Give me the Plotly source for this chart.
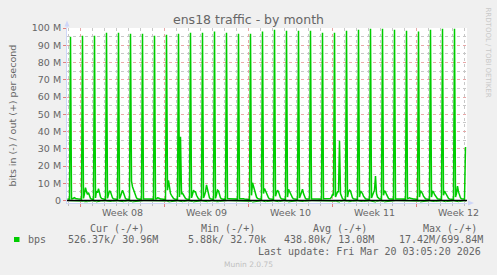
import datetime as dt
import plotly.graph_objects as go

# ---------------- data (Mbit/s, 2-hour samples) ----------------
start_time = dt.datetime(2026, 2, 14, 22, 0)
step_hours = 2

# out (+) traffic
out_week07 = [0.8,
              0.8, 0.7, 94.9, 0.9, 1.0, 1.3, 1.6, 1.2, 1.0, 0.9, 0.8, 0.8]
out_week08 = [0.8, 0.7, 95.5, 1.2, 4.0, 7.4, 5.0, 3.5, 4.5, 2.0, 1.2, 0.9,
              0.7, 0.6, 95.5, 1.5, 5.5, 4.5, 6.8, 4.0, 2.0, 1.2, 0.9, 0.8,
              0.7, 0.6, 97.3, 1.2, 3.0, 5.7, 5.0, 3.0, 1.5, 1.0, 0.8, 0.7,
              0.7, 0.6, 97.3, 1.0, 2.5, 4.0, 5.9, 4.5, 2.0, 1.2, 0.8, 0.7,
              0.7, 0.6, 96.7, 11.3, 8.0, 6.5, 4.0, 2.5, 1.5, 1.0, 0.8, 0.7,
              0.9, 0.8, 96.7, 0.9, 0.9, 1.0, 1.0, 0.9, 0.9, 0.9, 0.8, 0.8,
              0.8, 0.8, 95.5, 0.9, 1.0, 1.5, 1.4, 1.0, 0.9, 0.9, 0.9, 0.9]
out_week09 = [0.7, 0.6, 96.1, 6.0, 11.7, 7.0, 4.0, 3.0, 2.0, 1.2, 0.9, 0.8,
              0.8, 0.6, 96.7, 2.0, 37.0, 4.0, 4.2, 3.0, 2.0, 1.2, 0.9, 0.8,
              0.8, 0.6, 97.3, 1.5, 3.5, 6.0, 5.0, 5.0, 3.0, 1.5, 1.0, 0.8,
              0.8, 0.6, 97.3, 1.5, 3.0, 5.0, 9.0, 6.0, 3.0, 1.5, 1.0, 0.8,
              0.8, 0.6, 97.9, 1.2, 3.5, 6.0, 5.5, 3.0, 1.5, 1.0, 0.8, 0.7,
              0.9, 0.8, 97.3, 1.0, 1.0, 1.0, 1.0, 1.0, 0.9, 0.9, 0.9, 0.9,
              0.9, 0.8, 96.7, 1.0, 1.0, 1.1, 1.1, 1.0, 0.9, 0.9, 0.9, 0.9]
out_week10 = [0.8, 0.6, 96.7, 3.0, 10.3, 8.0, 5.0, 3.5, 2.0, 1.2, 0.9, 0.8,
              0.8, 0.6, 97.9, 4.0, 7.0, 5.5, 4.0, 2.5, 1.5, 1.0, 0.8, 0.7,
              0.8, 0.6, 99.0, 2.5, 4.5, 6.0, 5.0, 3.0, 1.5, 1.0, 0.8, 0.7,
              0.8, 0.6, 98.4, 2.0, 6.5, 5.0, 3.5, 2.5, 1.5, 1.0, 0.8, 0.7,
              0.8, 0.6, 98.4, 1.5, 3.0, 5.0, 6.5, 4.0, 2.0, 1.2, 0.8, 0.7,
              0.9, 0.8, 98.4, 0.9, 0.9, 1.0, 1.0, 0.9, 0.9, 0.9, 0.9, 0.9,
              0.9, 0.8, 97.3, 0.9, 1.0, 1.0, 1.0, 0.9, 0.9, 1.0, 1.2, 2.0]
out_week11 = [3.5, 3.0, 97.3, 2.0, 4.0, 5.0, 5.0, 34.7, 4.0, 2.0, 1.0, 0.8,
              0.8, 0.6, 98.4, 2.0, 5.0, 6.0, 5.5, 3.0, 1.5, 1.0, 0.8, 0.7,
              0.8, 0.6, 99.0, 2.0, 5.5, 5.0, 4.0, 2.5, 1.5, 1.0, 0.8, 0.7,
              0.8, 0.6, 99.6, 1.5, 3.0, 4.5, 6.0, 14.2, 4.0, 2.0, 1.0, 0.8,
              0.8, 0.6, 99.6, 3.0, 5.7, 5.0, 3.5, 2.0, 1.2, 0.9, 0.8, 0.7,
              0.9, 0.8, 99.0, 0.9, 0.9, 1.0, 1.0, 0.9, 0.9, 0.9, 0.9, 0.9,
              0.9, 0.8, 98.4, 1.0, 1.2, 1.5, 1.3, 1.0, 0.9, 0.9, 0.9, 0.9]
out_week12 = [0.8, 0.6, 97.9, 2.0, 5.7, 5.0, 4.0, 2.5, 1.5, 1.0, 0.8, 0.7,
              0.8, 0.6, 99.0, 2.0, 5.5, 5.0, 3.5, 2.5, 1.5, 1.0, 0.8, 0.7,
              0.8, 0.6, 99.6, 3.0, 5.5, 4.5, 3.5, 2.0, 1.2, 0.9, 0.8, 0.7,
              0.8, 0.6, 99.6, 2.0, 4.0, 8.4, 5.0, 3.0, 1.5, 1.0, 0.8, 0.7,
              0.8, 30.96]

# in (-) traffic
in_week07 = [-0.1,
             -0.1, -0.1, -0.2, -0.2, -0.2, -0.3, -0.3, -0.2, -0.2, -0.1, -0.1, -0.1]
in_week08 = [-0.2, -0.2, -0.3, -0.4, -0.7, -0.8, -0.8, -0.7, -0.5, -0.3, -0.2, -0.2,
             -0.2, -0.2, -0.3, -0.5, -0.8, -0.8, -0.7, -0.6, -0.4, -0.3, -0.2, -0.2,
             -0.2, -0.2, -0.3, -0.4, -0.7, -0.7, -0.8, -0.6, -0.4, -0.3, -0.2, -0.2,
             -0.2, -0.2, -0.3, -0.4, -0.6, -0.8, -0.8, -0.7, -0.5, -0.3, -0.2, -0.2,
             -0.2, -0.2, -0.3, -0.6, -0.8, -0.7, -0.6, -0.5, -0.4, -0.3, -0.2, -0.2,
             -0.1, -0.1, -0.2, -0.1, -0.1, -0.1, -0.1, -0.1, -0.1, -0.1, -0.1, -0.1,
             -0.1, -0.1, -0.2, -0.1, -0.1, -0.2, -0.2, -0.1, -0.1, -0.1, -0.1, -0.1]
in_week09 = [-0.2, -0.2, -0.3, -0.6, -0.9, -0.8, -0.7, -0.6, -0.4, -0.3, -0.2, -0.2,
             -0.2, -0.2, -0.3, -0.4, -0.8, -0.7, -0.7, -0.6, -0.4, -0.3, -0.2, -0.2,
             -0.2, -0.2, -0.3, -0.4, -0.6, -0.8, -0.7, -0.7, -0.5, -0.3, -0.2, -0.2,
             -0.2, -0.2, -0.3, -0.4, -0.6, -0.7, -0.9, -0.7, -0.5, -0.3, -0.2, -0.2,
             -0.2, -0.2, -0.3, -0.4, -0.7, -0.8, -0.7, -0.5, -0.4, -0.3, -0.2, -0.2,
             -0.1, -0.1, -0.2, -0.1, -0.1, -0.1, -0.1, -0.1, -0.1, -0.1, -0.1, -0.1,
             -0.1, -0.1, -0.2, -0.1, -0.1, -0.1, -0.1, -0.1, -0.1, -0.1, -0.1, -0.1]
in_week10 = [-0.2, -0.2, -0.3, -0.5, -0.9, -0.8, -0.7, -0.6, -0.4, -0.3, -0.2, -0.2,
             -0.2, -0.2, -0.3, -0.6, -0.8, -0.7, -0.6, -0.5, -0.4, -0.3, -0.2, -0.2,
             -0.2, -0.2, -0.3, -0.5, -0.7, -0.8, -0.7, -0.6, -0.4, -0.3, -0.2, -0.2,
             -0.2, -0.2, -0.3, -0.4, -0.8, -0.7, -0.6, -0.5, -0.4, -0.3, -0.2, -0.2,
             -0.2, -0.2, -0.3, -0.4, -0.6, -0.7, -0.8, -0.6, -0.4, -0.3, -0.2, -0.2,
             -0.1, -0.1, -0.2, -0.1, -0.1, -0.1, -0.1, -0.1, -0.1, -0.1, -0.1, -0.1,
             -0.1, -0.1, -0.2, -0.1, -0.1, -0.1, -0.1, -0.1, -0.1, -0.1, -0.2, -0.3]
in_week11 = [-0.4, -0.3, -0.3, -0.4, -0.6, -0.7, -0.7, -0.9, -0.5, -0.3, -0.2, -0.2,
             -0.2, -0.2, -0.3, -0.4, -0.7, -0.8, -0.7, -0.6, -0.4, -0.3, -0.2, -0.2,
             -0.2, -0.2, -0.3, -0.4, -0.8, -0.7, -0.6, -0.5, -0.4, -0.3, -0.2, -0.2,
             -0.2, -0.2, -0.3, -0.4, -0.6, -0.7, -0.8, -0.9, -0.5, -0.3, -0.2, -0.2,
             -0.2, -0.2, -0.3, -0.5, -0.8, -0.7, -0.6, -0.5, -0.4, -0.3, -0.2, -0.2,
             -0.1, -0.1, -0.2, -0.1, -0.1, -0.1, -0.1, -0.1, -0.1, -0.1, -0.1, -0.1,
             -0.1, -0.1, -0.2, -0.1, -0.2, -0.2, -0.2, -0.1, -0.1, -0.1, -0.1, -0.1]
in_week12 = [-0.2, -0.2, -0.3, -0.4, -0.8, -0.7, -0.7, -0.5, -0.4, -0.3, -0.2, -0.2,
             -0.2, -0.2, -0.3, -0.4, -0.8, -0.7, -0.6, -0.5, -0.4, -0.3, -0.2, -0.2,
             -0.2, -0.2, -0.3, -0.5, -0.8, -0.7, -0.6, -0.5, -0.4, -0.3, -0.2, -0.2,
             -0.2, -0.2, -0.3, -0.4, -0.6, -0.9, -0.7, -0.6, -0.4, -0.3, -0.2, -0.2,
             -0.2, -0.5]

# axis ticks / labels
y_tick_values = [0, 10, 20, 30, 40, 50, 60, 70, 80, 90, 100]
y_tick_labels = ["0", "10 M", "20 M", "30 M", "40 M", "50 M", "60 M",
                 "70 M", "80 M", "90 M", "100 M"]
week_starts = ["2026-02-16", "2026-02-23", "2026-03-02", "2026-03-09", "2026-03-16"]
week_labels = ["Week 08", "Week 09", "Week 10", "Week 11", "Week 12"]
week_label_pos = ["2026-02-19 12:00", "2026-02-26 12:00", "2026-03-05 12:00",
                  "2026-03-12 12:00", "2026-03-19 12:00"]

legend_headers = ["Cur (-/+)", "Min (-/+)", "Avg (-/+)", "Max (-/+)"]
legend_series = "bps"
legend_values = ["526.37k/ 30.96M", "5.88k/ 32.70k", "438.80k/ 13.08M", "17.42M/699.84M"]
last_update = "Last update: Fri Mar 20 03:05:20 2026"

# ---------------- build ----------------
out_vals = out_week07 + out_week08 + out_week09 + out_week10 + out_week11 + out_week12
in_vals = in_week07 + in_week08 + in_week09 + in_week10 + in_week11 + in_week12
times_out = [start_time + dt.timedelta(hours=step_hours * i) for i in range(len(out_vals))]
times_in = [start_time + dt.timedelta(hours=step_hours * i) for i in range(len(in_vals))]

W, H = 497, 275
L, R, T, B = 67, 467, 28, 203  # plot area in pixels


def px(x):
    return (x - L) / (R - L)


def py(y):
    return (B - y) / (B - T)


GREEN = "#00CC00"
FONT = "#666666"
AXISC = "#CFD6F8"

fig = go.Figure()
fig.add_trace(go.Scatter(x=times_in, y=in_vals, mode="lines",
                         line=dict(color=GREEN, width=1), hoverinfo="skip"))
fig.add_trace(go.Scatter(x=times_out, y=out_vals, mode="lines",
                         line=dict(color=GREEN, width=1.5), hoverinfo="skip"))

x_range = [dt.datetime(2026, 2, 14, 21, 0), dt.datetime(2026, 3, 20, 5, 0)]

fig.update_layout(
    width=W, height=H,
    margin=dict(l=L, r=W - R, t=T, b=H - B, pad=0),
    paper_bgcolor="#F0F0F0", plot_bgcolor="#FFFFFF",
    showlegend=False,
    font=dict(family="DejaVu Sans", size=9.5, color=FONT),
    xaxis=dict(
        type="date", range=x_range,
        tickmode="array", tickvals=week_starts, ticktext=[""] * len(week_starts),
        ticks="outside", ticklen=3, tickcolor="#E08080",
        showgrid=True, gridcolor="#E8A8A8", griddash="dot", gridwidth=1,
        minor=dict(tickmode="linear", tick0="2026-02-15", dtick=86400000,
                   showgrid=True, gridcolor="#C8C8C8", griddash="dot",
                   ticks="outside", ticklen=2, tickcolor="#C0C0C0"),
        showline=True, linecolor=AXISC, linewidth=1,
        zeroline=False, fixedrange=True,
    ),
    yaxis=dict(
        range=[-1.45, 100],
        tickmode="array", tickvals=y_tick_values, ticktext=y_tick_labels,
        ticks="outside", ticklen=3, tickcolor="#E08080",
        tickfont=dict(family="DejaVu Sans", size=9.5, color=FONT),
        showgrid=True, gridcolor="#E8A8A8", griddash="dot", gridwidth=1,
        minor=dict(tickmode="linear", tick0=0, dtick=5,
                   showgrid=True, gridcolor="#C8C8C8", griddash="dot"),
        showline=True, linecolor=AXISC, linewidth=1,
        zeroline=False, fixedrange=True,
    ),
)

shapes = [
    # zero rule
    dict(type="line", xref="paper", yref="y", x0=0, x1=1, y0=0, y1=0,
         line=dict(color="#000000", width=1.6), layer="above"),
    # axis arrows
    dict(type="path", xref="paper", yref="paper",
         path=f"M {px(64.5)} {py(26.5)} L {px(69.5)} {py(26.5)} L {px(67)} {py(20.5)} Z",
         fillcolor=AXISC, line=dict(width=0)),
    dict(type="line", xref="paper", yref="paper", x0=px(67), x1=px(67), y0=1, y1=py(24),
         line=dict(color=AXISC, width=1)),
    dict(type="path", xref="paper", yref="paper",
         path=f"M {px(468)} {py(200.5)} L {px(468)} {py(205.5)} L {px(474)} {py(203)} Z",
         fillcolor=AXISC, line=dict(width=0)),
    # legend swatch
    dict(type="rect", xref="paper", yref="paper", x0=px(14), x1=px(19.5),
         y0=py(242), y1=py(237), fillcolor=GREEN, line=dict(width=0)),
]
fig.update_layout(shapes=shapes)

ann = []
ann.append(dict(text="ens18 traffic - by month", xref="paper", yref="paper",
                x=px(248), y=py(19), xanchor="center", yanchor="middle",
                showarrow=False, font=dict(family="DejaVu Sans", size=12.5, color=FONT)))
ann.append(dict(text="bits in (-) / out (+) per second", xref="paper", yref="paper",
                x=px(11.5), y=py(115), xanchor="center", yanchor="middle", textangle=-90,
                showarrow=False, font=dict(family="DejaVu Sans", size=9.5, color=FONT)))
ann.append(dict(text="RRDTOOL / TOBI OETIKER", xref="paper", yref="paper",
                x=px(487.5), y=py(52), xanchor="center", yanchor="middle", textangle=90,
                showarrow=False, font=dict(family="DejaVu Sans", size=7, color="#C8C8C8")))
for pos, lab in zip(week_label_pos, week_labels):
    ann.append(dict(text=lab, xref="x", yref="paper", x=pos, y=py(212.5),
                    xanchor="center", yanchor="middle", showarrow=False,
                    font=dict(family="DejaVu Sans", size=9.5, color=FONT)))

MONO = dict(family="DejaVu Sans Mono", size=10, color=FONT)
for xpos, txt in zip([89.3, 200.3, 311.7, 422.3], legend_headers):
    ann.append(dict(text=txt, xref="paper", yref="paper", x=px(xpos - 1), y=py(228),
                    xanchor="left", yanchor="middle", showarrow=False, font=MONO))
ann.append(dict(text=legend_series, xref="paper", yref="paper", x=px(26.7 - 1), y=py(239.5),
                xanchor="left", yanchor="middle", showarrow=False, font=MONO))
for xpos, txt in zip([66.7, 186.7, 283.3, 397.7], legend_values):
    ann.append(dict(text=txt, xref="paper", yref="paper", x=px(xpos - 1), y=py(239.5),
                    xanchor="left", yanchor="middle", showarrow=False, font=MONO))
ann.append(dict(text=last_update, xref="paper", yref="paper", x=px(483.3), y=py(251),
                xanchor="right", yanchor="middle", showarrow=False, font=MONO))
ann.append(dict(text="Munin 2.0.75", xref="paper", yref="paper", x=px(248), y=py(264),
                xanchor="center", yanchor="middle", showarrow=False,
                font=dict(family="DejaVu Sans", size=7.5, color="#C0C0C0")))
fig.update_layout(annotations=ann)

fig.write_html("out.html", config={"displayModeBar": False})
